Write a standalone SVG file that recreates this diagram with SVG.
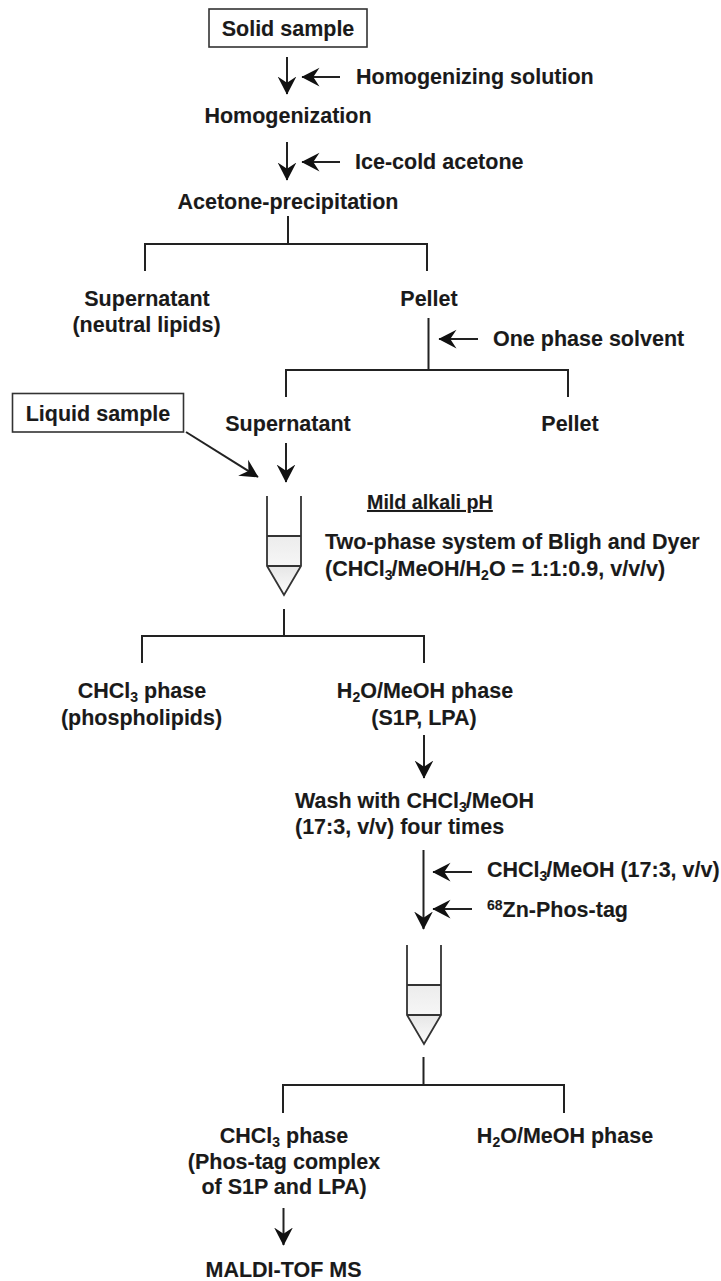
<svg xmlns="http://www.w3.org/2000/svg" width="721" height="1281" viewBox="0 0 721 1281">
<style>
text{font-family:"Liberation Sans",Arial,sans-serif;font-size:21.500px;fill:#1a1a1a;font-weight:bold;stroke:#1a1a1a;stroke-width:.1px}
.m{text-anchor:middle}
.s{font-size:14px}
.l{fill:none;stroke:#222;stroke-width:2}
.b{fill:#fff;stroke:#333;stroke-width:1.6}
.t{fill:none;stroke:#333;stroke-width:1.800}
</style>
<defs>
<marker id="a" markerUnits="userSpaceOnUse" markerWidth="20" markerHeight="20" refX="14" refY="7.500" orient="auto" viewBox="0 0 16 15"><path d="M0 0L14.500 7.500L0 15L5 7.500Z" fill="#111"/></marker>
<linearGradient id="g1" x1="0" y1="0" x2="0" y2="1"><stop offset="0" stop-color="#ececec"/><stop offset="1" stop-color="#f6f6f6"/></linearGradient>
<linearGradient id="g2" x1="0" y1="0" x2="0" y2="1"><stop offset="0" stop-color="#e6e6e6"/><stop offset="1" stop-color="#fcfcfc"/></linearGradient>
<g id="tube"><rect x="0" y="40" width="34" height="30" fill="url(#g1)"/><path d="M0 70H34L17 99Z" fill="url(#g2)"/><path class="t" d="M0 0V70L17 99L34 70V0M0 40H34M0 70H34"/></g>
</defs>
<g id="connectors">
<path class="l" marker-end="url(#a)" d="M287 57V94"/>
<path class="l" marker-end="url(#a)" d="M340 77H302"/>
<path class="l" marker-end="url(#a)" d="M287 142V180"/>
<path class="l" marker-end="url(#a)" d="M340 162H302"/>
<path class="l" d="M288 216V244M145 271V244H427V271"/>
<path class="l" d="M428.500 318V370M286 397V370H568V397"/>
<path class="l" marker-end="url(#a)" d="M478 339H439"/>
<path class="l" marker-end="url(#a)" d="M286 443V482"/>
<path class="l" marker-end="url(#a)" d="M186 432L258 477"/>
<path class="l" d="M284 609V636M142 663V636H424V663"/>
<path class="l" marker-end="url(#a)" d="M424 735V778"/>
<path class="l" marker-end="url(#a)" d="M423.500 850V929"/>
<path class="l" marker-end="url(#a)" d="M472 872H433"/>
<path class="l" marker-end="url(#a)" d="M472 909H433"/>
<path class="l" d="M423.500 1057V1085M283 1113V1085H564V1113"/>
<path class="l" marker-end="url(#a)" d="M283.500 1208V1245"/>
</g>
<g id="solid-sample"><rect class="b" x="209" y="9" width="158" height="38"/><text class="m" x="288" y="36">Solid sample</text></g>
<g id="homogenizing-solution"><text x="356" y="84">Homogenizing solution</text></g>
<g id="homogenization"><text class="m" x="288" y="123">Homogenization</text></g>
<g id="ice-cold-acetone"><text x="355" y="169">Ice-cold acetone</text></g>
<g id="acetone-precipitation"><text class="m" x="288" y="209">Acetone-precipitation</text></g>
<g id="supernatant-neutral"><text class="m" x="147" y="306">Supernatant</text><text class="m" x="146.500" y="332">(neutral lipids)</text></g>
<g id="pellet-1"><text class="m" x="429" y="306">Pellet</text></g>
<g id="one-phase-solvent"><text x="493" y="346">One phase solvent</text></g>
<g id="liquid-sample"><rect class="b" x="12.500" y="393.500" width="171" height="38.500"/><text class="m" x="98" y="421">Liquid sample</text></g>
<g id="supernatant"><text class="m" x="288" y="431">Supernatant</text></g>
<g id="pellet-2"><text class="m" x="570" y="431">Pellet</text></g>
<g id="tube-1"><use href="#tube" x="267" y="496"/></g>
<g id="mild-alkali"><text x="367" y="509" style="font-size:19.700px;text-decoration:underline">Mild alkali pH</text></g>
<g id="bligh-dyer"><text x="325" y="549">Two-phase system of Bligh and Dyer</text><text x="325" y="576">(CHCl<tspan class="s" dy="4">3</tspan><tspan dy="-4" dx="-1">/MeOH/H</tspan><tspan class="s" dy="4">2</tspan><tspan dy="-4">O = 1:1:0.9, v/v/v)</tspan></text></g>
<g id="chcl3-phospholipids"><text class="m" x="142" y="698">CHCl<tspan class="s" dy="4">3</tspan><tspan dy="-4"> phase</tspan></text><text class="m" x="141.500" y="725">(phospholipids)</text></g>
<g id="h2o-meoh-s1p"><text class="m" x="425" y="698">H<tspan class="s" dy="4">2</tspan><tspan dy="-4">O/MeOH phase</tspan></text><text class="m" x="424" y="725">(S1P, LPA)</text></g>
<g id="wash"><text x="295" y="808">Wash with CHCl<tspan class="s" dy="4">3</tspan><tspan dy="-4" dx="-1">/MeOH</tspan></text><text x="295" y="834">(17:3, v/v) four times</text></g>
<g id="chcl3-meoh"><text x="487" y="877">CHCl<tspan class="s" dy="4">3</tspan><tspan dy="-4" dx="-1">/MeOH (17:3, v/v)</tspan></text></g>
<g id="zn-phos-tag"><text x="487" y="917"><tspan class="s" dy="-7">68</tspan><tspan dy="7">Zn-Phos-tag</tspan></text></g>
<g id="tube-2"><use href="#tube" x="407" y="945"/></g>
<g id="chcl3-complex"><text class="m" x="284" y="1143">CHCl<tspan class="s" dy="4">3</tspan><tspan dy="-4"> phase</tspan></text><text class="m" x="284" y="1169">(Phos-tag complex</text><text class="m" x="284" y="1194">of S1P and LPA)</text></g>
<g id="h2o-meoh"><text class="m" x="565" y="1143">H<tspan class="s" dy="4">2</tspan><tspan dy="-4">O/MeOH phase</tspan></text></g>
<g id="maldi"><text class="m" x="283.500" y="1277">MALDI-TOF MS</text></g>
</svg>
